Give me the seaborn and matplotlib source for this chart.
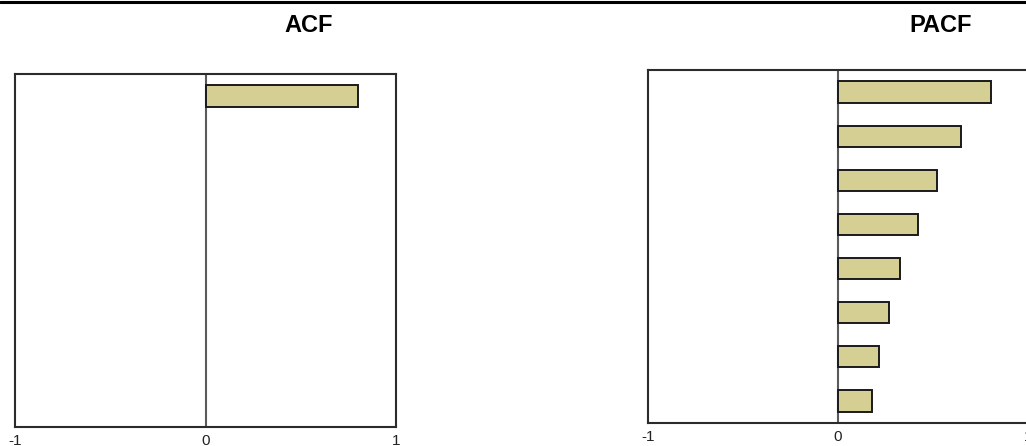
import numpy as np
import pandas as pd
import seaborn as sns
import matplotlib.pyplot as plt
from matplotlib.lines import Line2D

# lag coefficients
lags = [1, 2, 3, 4, 5, 6, 7, 8]
acf_values = [0.80, np.nan, np.nan, np.nan, np.nan, np.nan, np.nan, np.nan]
pacf_values = [0.807, 0.648, 0.521, 0.42, 0.325, 0.267, 0.214, 0.177]
x_ticks = [-1, 0, 1]
x_ticklabels = ["-1", "0", "1"]

bar_color = "#d5cf94"

sns.set_theme(style="white")
plt.rcParams["font.family"] = ["Liberation Sans", "DejaVu Sans"]

fig = plt.figure(figsize=(10.26, 4.46), dpi=100)

# thick rule along the top edge
fig.add_artist(Line2D([0, 1], [1 - 2 / 446, 1 - 2 / 446], transform=fig.transFigure,
                      color="black", linewidth=2.2))

panels = [
    ("ACF", acf_values, [15 / 1026, 19 / 446, 381 / 1026, 353 / 446], 308.5 / 1026),
    ("PACF", pacf_values, [648 / 1026, 23 / 446, 380 / 1026, 353 / 446], 940.5 / 1026),
]

for title, values, rect, title_x in panels:
    ax = fig.add_axes(rect)
    df = pd.DataFrame({"lag": lags, "value": values}).dropna()
    sns.barplot(data=df, x="value", y="lag", orient="h", order=lags,
                color=bar_color, saturation=1, width=0.48,
                edgecolor="#1a1a1a", linewidth=1.4, ax=ax)
    ax.axvline(0, color="#5a5a5a", linewidth=1.5, zorder=0)
    ax.set_xlim(-1, 1)
    ax.set_ylim(len(lags) - 0.5, -0.5)
    ax.set_xticks(x_ticks)
    ax.set_xticklabels(x_ticklabels)
    ax.set_yticks([])
    ax.set_xlabel("")
    ax.set_ylabel("")
    ax.tick_params(axis="x", length=0, pad=5, labelsize=11, labelcolor="#222222")
    for s in ax.spines.values():
        s.set_visible(True)
        s.set_color("#2b2b2b")
        s.set_linewidth(1.5)
    fig.text(title_x, 1 - 26 / 446, title, ha="center", va="center",
             fontsize=17, fontweight="bold", color="black")

fig.savefig("out.png", dpi=100)
